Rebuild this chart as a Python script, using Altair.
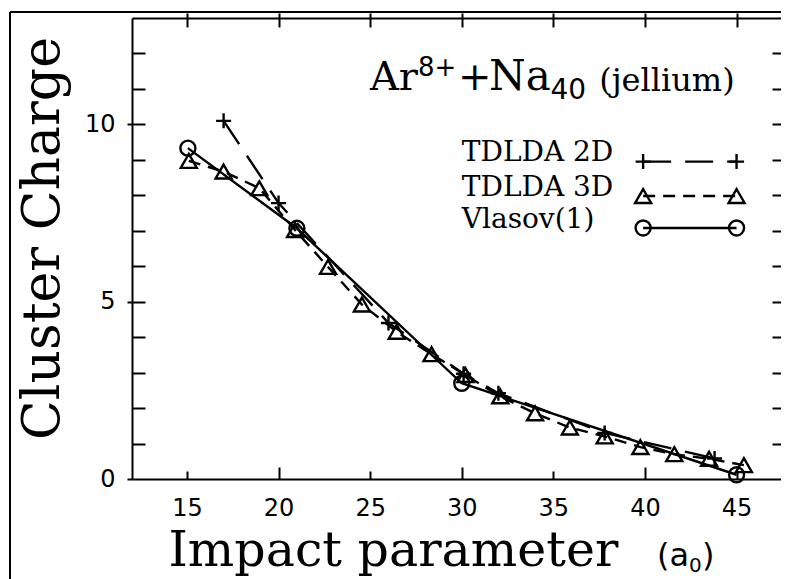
import altair as alt
import pandas as pd

# ---------------- data ----------------
x2d = [17.0, 20.0, 26.0, 30.1, 32.0, 37.8, 43.8]
y2d = [10.1, 7.78, 4.40, 2.97, 2.42, 1.30, 0.58]

x3d = [15.1, 17.0, 18.95, 20.9, 22.7, 24.55, 26.45, 28.35, 30.2, 32.1,
       34.0, 35.9, 37.8, 39.75, 41.6, 43.5, 45.4]
y3d = [8.97, 8.67, 8.20, 7.02, 5.98, 4.92, 4.15, 3.52, 2.93, 2.33,
       1.85, 1.45, 1.20, 0.90, 0.70, 0.57, 0.39]

xvl = [15.05, 21.0, 30.0, 45.0]
yvl = [9.33, 7.07, 2.70, 0.12]

series_names = ["TDLDA 2D", "TDLDA 3D", "Vlasov(1)"]
x_labels = [15, 20, 25, 30, 35, 40, 45]
x_major = [20, 30, 40]
x_minor = [15, 25, 35, 45]
y_labels = [0, 5, 10]
y_minor = list(range(1, 13))

# legend placement (data units)
leg_x = [39.9, 45.0]
leg_sym_y = [8.95, 7.98, 7.08]
leg_txt_x = 30.0
leg_txt_y = [9.19, 8.21, 7.29]

# title pieces (data units)
title_serif = pd.DataFrame({"t": ["Ar", "+"], "x": [24.99, 29.79], "y": [10.97, 10.97]})
title_na = pd.DataFrame({"t": ["Na"], "x": [31.49], "y": [10.97]})
title_sup = pd.DataFrame({"t": ["8+"], "x": [27.61], "y": [11.36]})
title_sub = pd.DataFrame({"t": ["40"], "x": [34.84], "y": [10.72]})
title_small = pd.DataFrame({"t": ["(jellium)"], "x": [37.50], "y": [10.94]})
unit_big = pd.DataFrame({"t": ["(a", ")"], "x": [40.66, 43.11], "y": [-2.45, -2.45]})
unit_sub = pd.DataFrame({"t": ["0"], "x": [42.40], "y": [-2.62]})

W, H = 649, 461
XS = alt.Scale(domain=[12, 12 + W / 18.32], nice=False, zero=False)
YS = alt.Scale(domain=[0, 13], nice=False, zero=False)

PLUS = "M-1,0L1,0M0,-1L0,1"
LW = 2.4
BLK = "black"


def ax(**kw):
    base = dict(grid=False, domainColor=BLK, tickColor=BLK, labelColor=BLK,
                titleColor=BLK, tickWidth=2, domainWidth=2)
    base.update(kw)
    return alt.Axis(**base)


ax_bottom_main = ax(orient="bottom", values=x_labels, domain=True, ticks=False, tickSize=0,
                    labelFont="DejaVu Sans", labelFontSize=24, labelPadding=17,
                    title="Impact parameter", titleFont="DejaVu Serif", titleFontSize=49,
                    titleFontWeight="normal", titleX=36, titleY=86, titleAlign="left",
                    titleBaseline="alphabetic")
ax_left_main = ax(orient="left", values=y_labels, domain=True, ticks=True, tickSize=5,
                  labelFont="DejaVu Sans", labelFontSize=24, labelPadding=12,
                  title="Cluster Charge", titleFont="DejaVu Serif", titleFontSize=52,
                  titleFontWeight="normal", titleX=-74, titleY=220, titleAlign="center",
                  titleBaseline="alphabetic", titleAngle=270)
ax_bottom_major = ax(orient="bottom", values=x_major, domain=False, tickSize=12, offset=-12,
                     labels=False, title=None)
ax_bottom_minor = ax(orient="bottom", values=x_minor, domain=False, tickSize=8, offset=-8,
                     labels=False, title=None)
ax_left_ticks = ax(orient="left", values=y_minor, domain=False, tickSize=13, offset=-13,
                   labels=False, title=None)
ax_right_ticks = ax(orient="right", values=y_minor, domain=False, tickSize=9, offset=-9,
                    labels=False, title=None)
ax_top_domain = ax(orient="top", domain=True, ticks=False, labels=False, title=None)
ax_top_ticks = ax(orient="top", values=x_labels, domain=False, tickSize=14, offset=-9,
                  labels=False, title=None)


def X(axis):
    return alt.X("x:Q", scale=XS, axis=axis)


def Y(axis):
    return alt.Y("y:Q", scale=YS, axis=axis)


df2d = pd.DataFrame({"x": x2d, "y": y2d})
df3d = pd.DataFrame({"x": x3d, "y": y3d})
dfvl = pd.DataFrame({"x": xvl, "y": yvl})

l2d = alt.Chart(df2d).mark_line(color=BLK, strokeWidth=LW, strokeDash=[28, 14]).encode(
    x=X(ax_bottom_main), y=Y(ax_left_main))
p2d = alt.Chart(df2d).mark_point(shape=PLUS, size=225, filled=False, color=BLK,
                                 strokeWidth=LW, opacity=1).encode(
    x=X(ax_bottom_major), y=Y(ax_left_ticks))
l3d = alt.Chart(df3d).mark_line(color=BLK, strokeWidth=LW, strokeDash=[12, 8]).encode(
    x=X(ax_bottom_minor), y=Y(ax_right_ticks))
p3d = alt.Chart(df3d).mark_point(shape="triangle-up", size=256, filled=False, color=BLK,
                                 strokeWidth=LW, opacity=1).encode(
    x=X(ax_top_domain), y=Y(None))
lvl = alt.Chart(dfvl).mark_line(color=BLK, strokeWidth=LW).encode(
    x=X(ax_top_ticks), y=Y(None))
pvl = alt.Chart(dfvl).mark_point(shape="circle", size=225, filled=False, color=BLK,
                                 strokeWidth=LW, opacity=1).encode(
    x=X(None), y=Y(None))

# legend
styles = [([28, 14], PLUS, 225), ([12, 8], "triangle-up", 256), ([1, 0], "circle", 225)]
legend_layers = []
for i, name in enumerate(series_names):
    dash, shape, size = styles[i]
    seg = pd.DataFrame({"x": leg_x, "y": [leg_sym_y[i]] * 2})
    legend_layers.append(alt.Chart(seg).mark_line(color=BLK, strokeWidth=LW, strokeDash=dash)
                         .encode(x=X(None), y=Y(None)))
    legend_layers.append(alt.Chart(seg).mark_point(shape=shape, size=size, filled=False,
                                                   color=BLK, strokeWidth=LW, opacity=1)
                         .encode(x=X(None), y=Y(None)))
leg_text = pd.DataFrame({"t": series_names, "x": [leg_txt_x] * 3, "y": leg_txt_y})
legend_layers.append(alt.Chart(leg_text).mark_text(font="DejaVu Serif", fontSize=28, align="left",
                                                   baseline="middle", color=BLK)
                     .encode(x=X(None), y=Y(None), text="t:N"))


def txt(df, font, size):
    return alt.Chart(df).mark_text(font=font, fontSize=size, align="left",
                                   baseline="alphabetic", color=BLK).encode(
        x=X(None), y=Y(None), text="t:N")


t1 = txt(title_serif, "DejaVu Serif", 40)
t1b = txt(title_na, "DejaVu Serif", 42)
t2 = txt(title_sup, "DejaVu Sans", 26)
t2b = txt(title_sub, "DejaVu Sans", 28)
t3 = txt(title_small, "DejaVu Serif", 32)
t4 = txt(unit_big, "DejaVu Sans", 32)
t5 = txt(unit_sub, "DejaVu Sans", 20)

# outer figure frame
one = pd.DataFrame({"a": [0]})
frame_v = alt.Chart(one).mark_rule(color=BLK, strokeWidth=2).encode(
    x=alt.value(-122), y=alt.value(-6), y2=alt.value(H + 120))
frame_h = alt.Chart(one).mark_rule(color=BLK, strokeWidth=2).encode(
    x=alt.value(-122), x2=alt.value(W + 20), y=alt.value(-6))

chart = alt.layer(
    l2d, p2d, l3d, p3d, lvl, pvl, *legend_layers, t1, t1b, t2, t2b, t3, t4, t5, frame_v, frame_h
).resolve_axis(x="independent", y="independent").properties(
    width=W, height=H,
    padding={"left": 124, "top": 10, "right": 0, "bottom": 100},
    autosize=alt.AutoSizeParams(type="none"),
    background="white",
).configure_view(stroke=None)

chart.save("out.html", embed_options={"renderer": "svg", "actions": False})
